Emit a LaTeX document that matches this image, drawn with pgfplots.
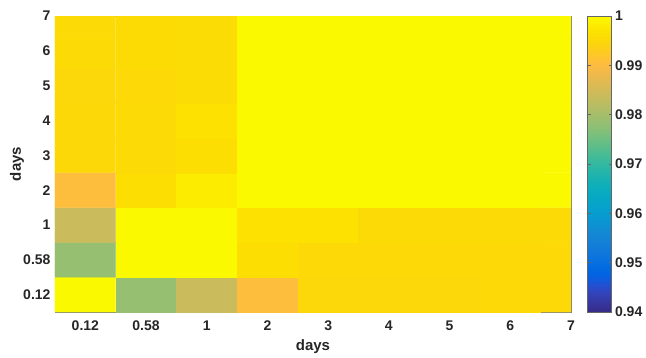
\documentclass[border=0pt]{standalone}
\usepackage{fontspec}
\setmainfont{Liberation Sans}
\usepackage{pgfplots}
\pgfplotsset{compat=1.18}

% parula-style colour map (64 entries), warm end kept saturated
\pgfplotsset{
  colormap={parula}{
    rgb=(0.2081,0.1663,0.5292) rgb=(0.2116,0.1898,0.5777) rgb=(0.2123,0.2138,0.6270) rgb=(0.2081,0.2386,0.6771)
    rgb=(0.1959,0.2645,0.7279) rgb=(0.1707,0.2919,0.7792) rgb=(0.1253,0.3242,0.8303) rgb=(0.0591,0.3598,0.8683)
    rgb=(0.0117,0.3875,0.8820) rgb=(0.0060,0.4086,0.8828) rgb=(0.0165,0.4266,0.8786) rgb=(0.0329,0.4430,0.8720)
    rgb=(0.0498,0.4586,0.8641) rgb=(0.0629,0.4737,0.8554) rgb=(0.0723,0.4887,0.8467) rgb=(0.0779,0.5040,0.8384)
    rgb=(0.0793,0.5200,0.8312) rgb=(0.0749,0.5375,0.8263) rgb=(0.0641,0.5570,0.8240) rgb=(0.0488,0.5772,0.8228)
    rgb=(0.0343,0.5966,0.8199) rgb=(0.0265,0.6137,0.8135) rgb=(0.0239,0.6287,0.8038) rgb=(0.0231,0.6418,0.7913)
    rgb=(0.0228,0.6535,0.7768) rgb=(0.0267,0.6642,0.7607) rgb=(0.0384,0.6743,0.7436) rgb=(0.0590,0.6838,0.7254)
    rgb=(0.0843,0.6928,0.7062) rgb=(0.1133,0.7015,0.6859) rgb=(0.1453,0.7098,0.6646) rgb=(0.1801,0.7177,0.6424)
    rgb=(0.2178,0.7250,0.6193) rgb=(0.2586,0.7317,0.5954) rgb=(0.3022,0.7376,0.5712) rgb=(0.3482,0.7424,0.5473)
    rgb=(0.3953,0.7459,0.5244) rgb=(0.4420,0.7481,0.5033) rgb=(0.4871,0.7491,0.4840) rgb=(0.5300,0.7491,0.4661)
    rgb=(0.5709,0.7485,0.4494) rgb=(0.6099,0.7473,0.4337) rgb=(0.6473,0.7456,0.4188) rgb=(0.6834,0.7435,0.4044)
    rgb=(0.7184,0.7411,0.3905) rgb=(0.7525,0.7384,0.3768) rgb=(0.7858,0.7356,0.3633) rgb=(0.8185,0.7327,0.3498)
    rgb=(0.8507,0.7299,0.3360) rgb=(0.8824,0.7274,0.3217) rgb=(0.9139,0.7258,0.3063) rgb=(0.9450,0.7261,0.2886)
    rgb=(0.9739,0.7314,0.2666) rgb=(0.9938,0.7455,0.2403) rgb=(0.9990,0.7653,0.2000) rgb=(0.9955,0.7861,0.1500)
    rgb=(0.9900,0.8066,0.1000) rgb=(0.9900,0.8271,0.0600) rgb=(0.9900,0.8481,0.0300) rgb=(0.9900,0.8705,0.0100)
    rgb=(0.9900,0.8949,0.0000) rgb=(0.9900,0.9218,0.0000) rgb=(0.9900,0.9514,0.0000) rgb=(0.9850,0.9750,0.0000)
  }
}

% similarity values: x index, y index (0 = 0.12 d, 1 = 0.58 d, 2 = 1 d, 3..8 = 2..7 d), value
\pgfplotstableread{
x y c
0 0 1.0000
1 0 0.9785
2 0 0.9840
3 0 0.9905
4 0 0.9951
5 0 0.9951
6 0 0.9951
7 0 0.9953
8 0 0.9953
0 1 0.9785
1 1 1.0000
2 1 1.0000
3 1 0.9962
4 1 0.9953
5 1 0.9953
6 1 0.9953
7 1 0.9953
8 1 0.9953
0 2 0.9840
1 2 1.0000
2 2 1.0000
3 2 0.9966
4 2 0.9966
5 2 0.9955
6 2 0.9955
7 2 0.9955
8 2 0.9955
0 3 0.9905
1 3 0.9962
2 3 0.9982
3 3 1.0000
4 3 1.0000
5 3 1.0000
6 3 1.0000
7 3 1.0000
8 3 1.0000
0 4 0.9952
1 4 0.9956
2 4 0.9962
3 4 1.0000
4 4 1.0000
5 4 1.0000
6 4 1.0000
7 4 1.0000
8 4 1.0000
0 5 0.9952
1 5 0.9955
2 5 0.9966
3 5 1.0000
4 5 1.0000
5 5 1.0000
6 5 1.0000
7 5 1.0000
8 5 1.0000
0 6 0.9950
1 6 0.9954
2 6 0.9958
3 6 1.0000
4 6 1.0000
5 6 1.0000
6 6 1.0000
7 6 1.0000
8 6 1.0000
0 7 0.9955
1 7 0.9957
2 7 0.9958
3 7 1.0000
4 7 1.0000
5 7 1.0000
6 7 1.0000
7 7 1.0000
8 7 1.0000
0 8 0.9955
1 8 0.9957
2 8 0.9958
3 8 1.0000
4 8 1.0000
5 8 1.0000
6 8 1.0000
7 8 1.0000
8 8 1.0000
}\simtable

\begin{document}
\begin{tikzpicture}
\begin{axis}[
  scale only axis,
  width=516pt, height=296pt,
  xmin=-0.5, xmax=8, ymin=-0.5, ymax=8,
  xtick={0,...,8}, ytick={0,...,8},
  xticklabels={0.12,0.58,1,2,3,4,5,6,7},
  yticklabels={0.12,0.58,1,2,3,4,5,6,7},
  xtick pos=both, ytick pos=both,
  xticklabel pos=lower, yticklabel pos=left,
  tick align=inside,
  major tick length=5pt,
  axis line style={black!50},
  every tick/.style={black!50, line width=0.6pt},
  tick label style={font=\fontsize{14}{14}\selectfont\bfseries, text=black!85},
  xticklabel style={yshift=-5pt},
  yticklabel style={xshift=-1pt},
  /pgf/number format/assume math mode=true,
  xlabel={days}, ylabel={days},
  every axis x label/.style={at={(axis description cs:0.5,0)}, anchor=center,
    yshift=-35pt, font=\fontsize{15}{15}\selectfont\bfseries, text=black!85},
  every axis y label/.style={at={(axis description cs:0,0.5)}, anchor=center,
    xshift=-38pt, rotate=90, font=\fontsize{15}{15}\selectfont\bfseries, text=black!85},
  colormap name=parula,
  point meta min=0.94, point meta max=1,
  colorbar,
  colorbar/width=24pt,
  colorbar style={
    scale only axis,
    at={(parent axis.north east)}, anchor=north west, xshift=8pt,
    ytick={0.94,0.95,0.96,0.97,0.98,0.99,1},
    yticklabels={0.94,0.95,0.96,0.97,0.98,0.99,1},
    axis line style={black!60},
    major tick length=3pt,
    every tick/.style={black!60},
    tick label style={font=\fontsize{14}{14}\selectfont\bfseries, text=black!85},
    yticklabel style={xshift=0pt},
  },
]
\addplot[matrix plot*, mesh/cols=9, point meta=explicit] table[x=x, y=y, meta=c] {\simtable};
\end{axis}
\pgfresetboundingbox
\useasboundingbox (current axis.south west) ++(-55pt,-45pt) rectangle ++(646pt,357pt);
\end{tikzpicture}
\end{document}
